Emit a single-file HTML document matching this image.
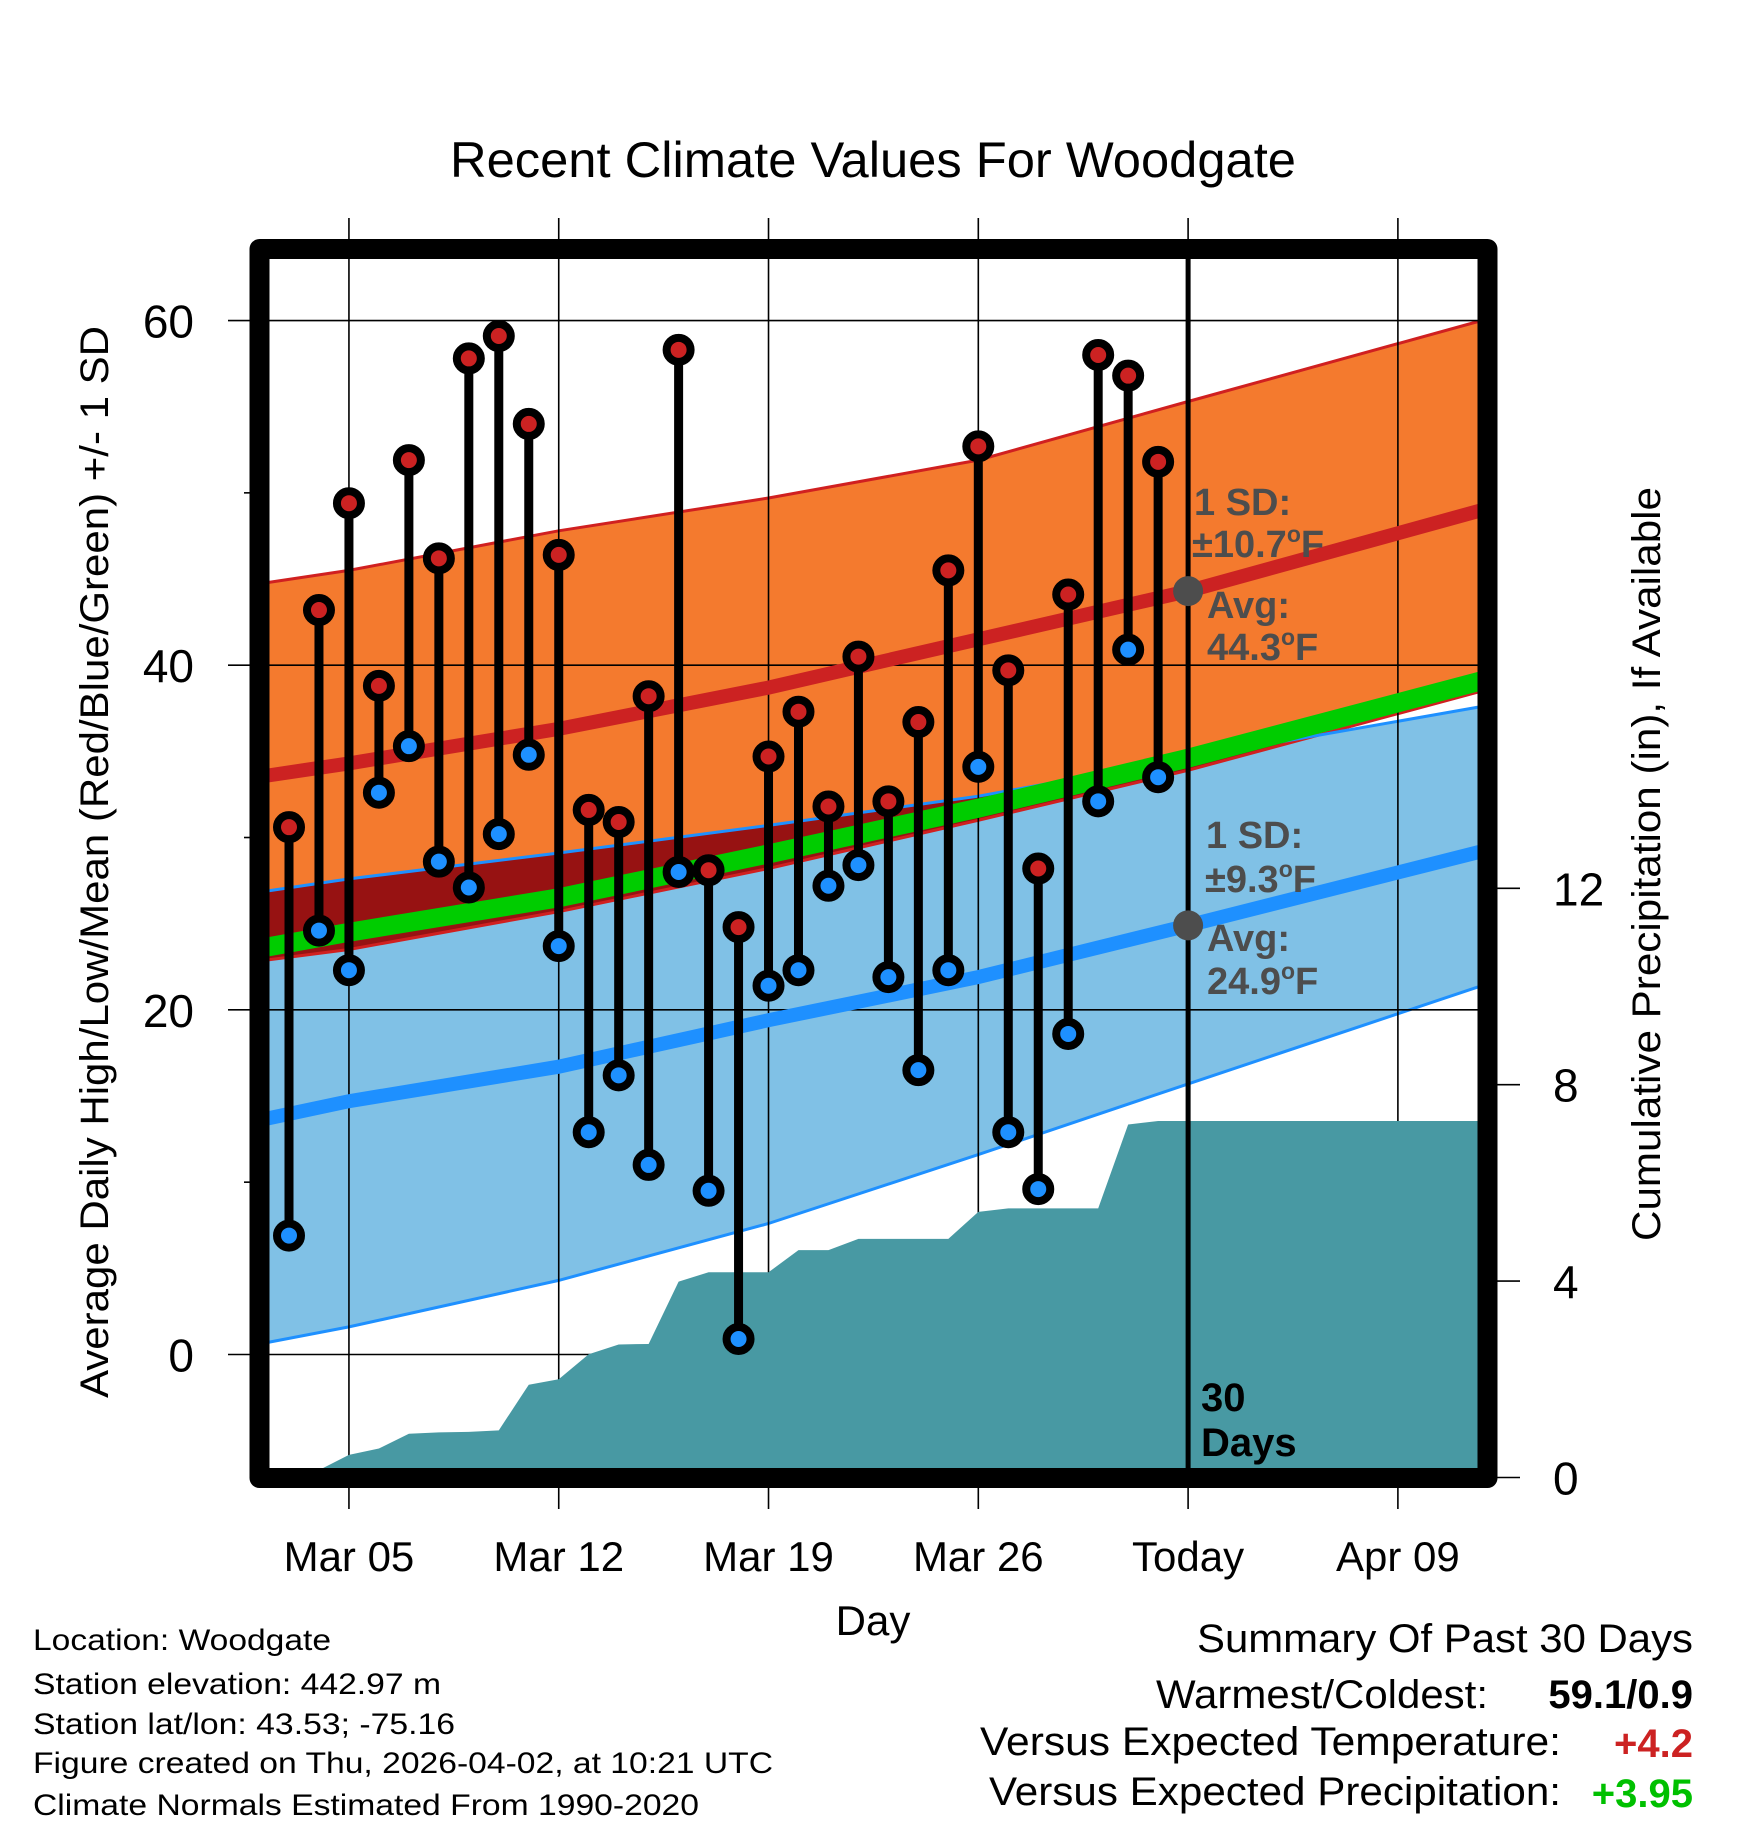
<!DOCTYPE html>
<html><head><meta charset="utf-8"><title>Recent Climate Values For Woodgate</title>
<style>
html,body{margin:0;padding:0;background:#fff;}
svg{display:block;font-family:"Liberation Sans",Arial,sans-serif;}
</style></head>
<body>
<svg id="chart" width="1748" height="1828" viewBox="0 0 1748 1828" xmlns="http://www.w3.org/2000/svg">
<defs>
<clipPath id="plotClip"><rect x="259.5" y="249" width="1228" height="1229"/></clipPath>
<clipPath id="lowClip"><path id="lowClipPath" d=""/></clipPath>
</defs>
<rect width="1748" height="1828" fill="#fff"/>
<text x="873" y="177" font-size="50" text-anchor="middle" textLength="846" lengthAdjust="spacingAndGlyphs">Recent Climate Values For Woodgate</text>
<g id="bands" clip-path="url(#plotClip)"></g>
<g id="grid"></g>
<g id="precip" clip-path="url(#plotClip)"></g>
<g id="means" clip-path="url(#plotClip)"></g>
<g id="today"></g>
<g id="stems"></g>
<g id="annot"></g>
<rect x="259.5" y="249" width="1228" height="1229" fill="none" stroke="#000" stroke-width="20" stroke-linejoin="round"/>
<g id="axes"></g>
<text transform="translate(108,862) rotate(-90)" font-size="40" text-anchor="middle" textLength="1072" lengthAdjust="spacingAndGlyphs">Average Daily High/Low/Mean (Red/Blue/Green) +/- 1 SD</text>
<text transform="translate(1660,864) rotate(-90)" font-size="40" text-anchor="middle" textLength="754" lengthAdjust="spacingAndGlyphs">Cumulative Precipitation (in), If Available</text>
<text x="873" y="1635" font-size="42" text-anchor="middle">Day</text>
<g font-size="30">
<text x="33" y="1650" textLength="298" lengthAdjust="spacingAndGlyphs">Location: Woodgate</text>
<text x="33" y="1694" textLength="408" lengthAdjust="spacingAndGlyphs">Station elevation: 442.97 m</text>
<text x="33" y="1734" textLength="422" lengthAdjust="spacingAndGlyphs">Station lat/lon: 43.53; -75.16</text>
<text x="33" y="1773" textLength="740" lengthAdjust="spacingAndGlyphs">Figure created on Thu, 2026-04-02, at 10:21 UTC</text>
<text x="33" y="1815" textLength="666" lengthAdjust="spacingAndGlyphs">Climate Normals Estimated From 1990-2020</text>
</g>
<g font-size="40">
<text x="1693" y="1652" text-anchor="end" textLength="496" lengthAdjust="spacingAndGlyphs">Summary Of Past 30 Days</text>
<text x="1488" y="1708" text-anchor="end" textLength="332" lengthAdjust="spacingAndGlyphs">Warmest/Coldest:</text>
<text x="1693" y="1708" text-anchor="end" font-weight="bold">59.1/0.9</text>
<text x="1561" y="1755" text-anchor="end" textLength="581" lengthAdjust="spacingAndGlyphs">Versus Expected Temperature:</text>
<text x="1693" y="1757" text-anchor="end" font-weight="bold" fill="#CC2222">+4.2</text>
<text x="1561" y="1805" text-anchor="end" textLength="572" lengthAdjust="spacingAndGlyphs">Versus Expected Precipitation:</text>
<text x="1693" y="1807" text-anchor="end" font-weight="bold" fill="#00C000">+3.95</text>
</g>
</svg>
<script>
// ---- data ----
const dayLabels = ["Mar 03","Mar 04","Mar 05","Mar 06","Mar 07","Mar 08","Mar 09","Mar 10","Mar 11","Mar 12","Mar 13","Mar 14","Mar 15","Mar 16","Mar 17","Mar 18","Mar 19","Mar 20","Mar 21","Mar 22","Mar 23","Mar 24","Mar 25","Mar 26","Mar 27","Mar 28","Mar 29","Mar 30","Mar 31","Apr 01"];
const highs = [30.6,43.2,49.4,38.8,51.9,46.2,57.8,59.1,54.0,46.4,31.6,30.9,38.2,58.3,28.1,24.8,34.7,37.3,31.8,40.5,32.1,36.7,45.5,52.7,39.7,28.2,44.1,58.0,56.8,51.8];
const lows = [6.9,24.6,22.3,32.6,35.3,28.6,27.1,30.2,34.8,23.7,12.9,16.2,11.0,28.0,9.5,0.9,21.4,22.3,27.2,28.4,21.9,16.5,22.3,34.1,12.9,9.6,18.6,32.1,40.9,33.5];
const precip = [0,0.15,0.46,0.59,0.89,0.92,0.93,0.96,1.89,2.00,2.51,2.71,2.72,3.99,4.18,4.18,4.18,4.63,4.63,4.86,4.86,4.86,4.86,5.41,5.48,5.48,5.48,5.48,7.19,7.26];
const normDays = [-0.7,2,9,16,23,30,39.8];
const highUpper = [44.8,45.5,47.8,49.7,51.9,55.3,60.0];
const highMean = [33.6,34.3,36.3,38.7,41.5,44.3,49.0];
const highLower = [22.9,23.5,25.7,28.2,31.0,33.9,38.5];
const lowUpper = [26.9,27.6,29.1,30.7,32.4,34.6,37.6];
const lowMean = [13.7,14.7,16.7,19.4,21.9,24.9,29.2];
const lowLower = [0.7,1.6,4.3,7.6,11.6,15.7,21.4];
const tempTicks = [0,20,40,60];
const tempMinor = [10,30,50];
const precipTicks = [0,4,8,12];
const xTickDays = [2,9,16,23,30,37];
const xTickLabels = ["Mar 05","Mar 12","Mar 19","Mar 26","Today","Apr 09"];
const todayDay = 30;
const todayHighMean = 44.3, todayLowMean = 24.9;

// ---- scales ----
function xS(d){return 289 + 29.97*d;}
function yT(v){return 1354.5 - 17.233*v;}
function yP(p){return 1477.5 - 49.1*p;}
const NS="http://www.w3.org/2000/svg";
function mk(tag, attrs, parent){const e=document.createElementNS(NS,tag);for(const k in attrs)e.setAttribute(k,attrs[k]);parent.appendChild(e);return e;}
function linePts(arr){return normDays.map((d,i)=>xS(d).toFixed(1)+","+yT(arr[i]).toFixed(1));}
function bandPath(up,lo){const a=linePts(up);const b=linePts(lo).reverse();return "M"+a.join("L")+"L"+b.join("L")+"Z";}

const bands=document.getElementById('bands');
let e;
e=mk('path',{d:bandPath(highUpper,highLower),fill:'#F47A2E'},bands);


e=mk('path',{d:bandPath(lowUpper,lowLower),fill:'#80C1E6'},bands);


document.getElementById('lowClipPath').setAttribute('d',bandPath(lowUpper,lowLower));
e=mk('path',{d:bandPath(highUpper,highLower),fill:'#971212','clip-path':'url(#lowClip)'},bands);


[[highUpper,'#D02020','high-upper-line'],[highLower,'#D02020','high-lower-line'],[lowUpper,'#1E90FF','low-upper-line'],[lowLower,'#1E90FF','low-lower-line']].forEach(function(s){
  const p=mk('polyline',{points:linePts(s[0]).join(" "),fill:'none',stroke:s[1],'stroke-width':3},bands);
  
  
});

// grid
const grid=document.getElementById('grid');
xTickDays.forEach(function(d){
  const l=mk('line',{x1:xS(d),x2:xS(d),y1:218,y2:1509,stroke:'#000','stroke-width':1.6},grid);
  
  
});
tempTicks.forEach(function(v){
  const l=mk('line',{x1:228,x2:1478,y1:yT(v),y2:yT(v),stroke:'#000','stroke-width':1.6},grid);
  
  
});

// precip
const pg=document.getElementById('precip');
let pts=[xS(0)+","+yP(0)];
precip.forEach(function(p,i){pts.push(xS(i)+","+yP(p));});
pts.push(xS(39.8)+","+yP(precip[precip.length-1]));
pts.push(xS(39.8)+","+yP(0));
e=mk('polygon',{points:pts.join(" "),fill:'#4899A3'},pg);



// means
const mg=document.getElementById('means');
e=mk('polyline',{points:linePts(highMean).join(" "),fill:'none',stroke:'#CC2222','stroke-width':14},mg);


e=mk('polyline',{points:linePts(lowMean).join(" "),fill:'none',stroke:'#1E90FF','stroke-width':14},mg);


const avgMean=highMean.map(function(v,i){return (v+lowMean[i])/2;});
e=mk('polyline',{points:linePts(avgMean).join(" "),fill:'none',stroke:'#00CC00','stroke-width':19},mg);



// today line
const tg=document.getElementById('today');
e=mk('line',{x1:xS(todayDay),x2:xS(todayDay),y1:255,y2:1470,stroke:'#000','stroke-width':5},tg);


e=mk('circle',{cx:xS(todayDay),cy:yT(todayHighMean),r:15,fill:'#4D4D4D'},tg);


e=mk('circle',{cx:xS(todayDay),cy:yT(todayLowMean),r:15,fill:'#4D4D4D'},tg);



// stems and dots
const sg=document.getElementById('stems');
highs.forEach(function(h,i){
  const x=xS(i), lo=lows[i];
  const g=mk('g',{},sg);
  
  
  mk('line',{x1:x,x2:x,y1:yT(h),y2:yT(lo),stroke:'#000','stroke-width':9},g);
  let c=mk('circle',{cx:x,cy:yT(h),r:12,fill:'#CC2222',stroke:'#000','stroke-width':8},g);
  
  
  c=mk('circle',{cx:x,cy:yT(lo),r:12,fill:'#1E90FF',stroke:'#000','stroke-width':8},g);
  
  
});

// annotations
const ag=document.getElementById('annot');
function ann(txt,x,y,name,fill,sup){
  const t=mk('text',{x:x,y:y,'font-size':38,'font-weight':'bold',fill:fill},ag);
  
  
  if(sup){
    t.appendChild(document.createTextNode(txt));
    const s=mk('tspan',{'font-size':23,dy:-15},t);s.textContent='o';
    const f=mk('tspan',{dy:15},t);f.textContent='F';
  } else t.textContent=txt;
}
ann('1 SD:',1194,515,'high-sd-label','#4D4D4D');
ann('\u00b110.7',1192,557,'high-sd-value','#4D4D4D',true);
ann('Avg:',1207,618,'high-avg-label','#4D4D4D');
ann('44.3',1207,660,'high-avg-value','#4D4D4D',true);
ann('1 SD:',1206,848,'low-sd-label','#4D4D4D');
ann('\u00b19.3',1205,892,'low-sd-value','#4D4D4D',true);
ann('Avg:',1207,951,'low-avg-label','#4D4D4D');
ann('24.9',1207,994,'low-avg-value','#4D4D4D',true);
const dl=mk('text',{x:1201,y:1411,'font-size':40,'font-weight':'bold'},ag);


dl.textContent='30';
const dl2=mk('text',{x:1201,y:1456,'font-size':40,'font-weight':'bold'},ag);


dl2.textContent='Days';

// axes labels & ticks
const ax=document.getElementById('axes');
tempTicks.forEach(function(v){
  const t=mk('text',{x:194,y:yT(v)+17,'font-size':46,'text-anchor':'end'},ax);
  
  
  t.textContent=v;
});
tempMinor.forEach(function(v){
  const l=mk('line',{x1:244,x2:252,y1:yT(v),y2:yT(v),stroke:'#000','stroke-width':1.6},ax);
  
  
});
precipTicks.forEach(function(p){
  const l=mk('line',{x1:1495,x2:1520,y1:yP(p),y2:yP(p),stroke:'#000','stroke-width':1.6},ax);
  
  
  const t=mk('text',{x:1553,y:yP(p)+17,'font-size':46},ax);
  
  
  t.textContent=p;
});
xTickDays.forEach(function(d,i){
  const t=mk('text',{x:xS(d),y:1571,'font-size':42,'text-anchor':'middle'},ax);
  
  
  t.textContent=xTickLabels[i];
});
</script>
</body></html>
